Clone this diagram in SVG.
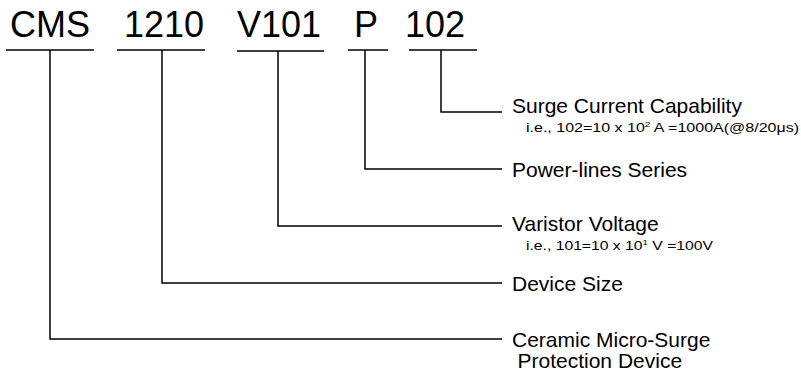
<svg xmlns="http://www.w3.org/2000/svg" width="801" height="376" viewBox="0 0 801 376">
<style>
text{font-family:"Liberation Sans",Arial,sans-serif;fill:#000}
.big{font-size:36px}
.lbl{font-size:21px}
.sub{font-size:13px}
.sup{font-size:8px}
.ln{stroke:#000;stroke-width:1.5;fill:none}
</style>
<rect width="801" height="376" fill="#fff"/>
<g id="code">
<g id="cms"><text class="big" x="10" y="36.5">CMS</text><line class="ln" x1="6" y1="50" x2="94" y2="50"/></g>
<g id="size"><text class="big" x="124" y="36.5">1210</text><line class="ln" x1="117" y1="50" x2="205" y2="50"/></g>
<g id="volt"><text class="big" x="237" y="36.5">V101</text><line class="ln" x1="237" y1="51" x2="324" y2="51"/></g>
<g id="series"><text class="big" x="354" y="36.5">P</text><line class="ln" x1="348" y1="50" x2="388" y2="50"/></g>
<g id="surge"><text class="big" x="405" y="36.5">102</text><line class="ln" x1="409" y1="50" x2="477" y2="50"/></g>
</g>
<g id="connectors">
<polyline class="ln" points="441,50 441,112 502,112"/>
<polyline class="ln" points="365,50 365,169 502,169"/>
<polyline class="ln" points="278,51 278,226 502,226"/>
<polyline class="ln" points="162,50 162,283 502,283"/>
<polyline class="ln" points="50,50 50,339 502,339"/>
</g>
<g id="label-surge">
<text class="lbl" x="512" y="113">Surge Current Capability</text>
<text class="sub" x="526" y="132" textLength="273" lengthAdjust="spacingAndGlyphs">i.e., 102=10 x 10<tspan class="sup" dy="-5">2</tspan><tspan dy="5"> A =1000A(@8/20μs)</tspan></text>
</g>
<g id="label-series"><text class="lbl" x="512" y="176.5">Power-lines Series</text></g>
<g id="label-volt">
<text class="lbl" x="512" y="231">Varistor Voltage</text>
<text class="sub" x="526" y="250" textLength="187" lengthAdjust="spacingAndGlyphs">i.e., 101=10 x 10<tspan class="sup" dy="-5">1</tspan><tspan dy="5"> V =100V</tspan></text>
</g>
<g id="label-size"><text class="lbl" x="512" y="291">Device Size</text></g>
<g id="label-cms">
<text class="lbl" x="512" y="346.5">Ceramic Micro-Surge</text>
<text class="lbl" x="517.5" y="367.5">Protection Device</text>
</g>
</svg>
